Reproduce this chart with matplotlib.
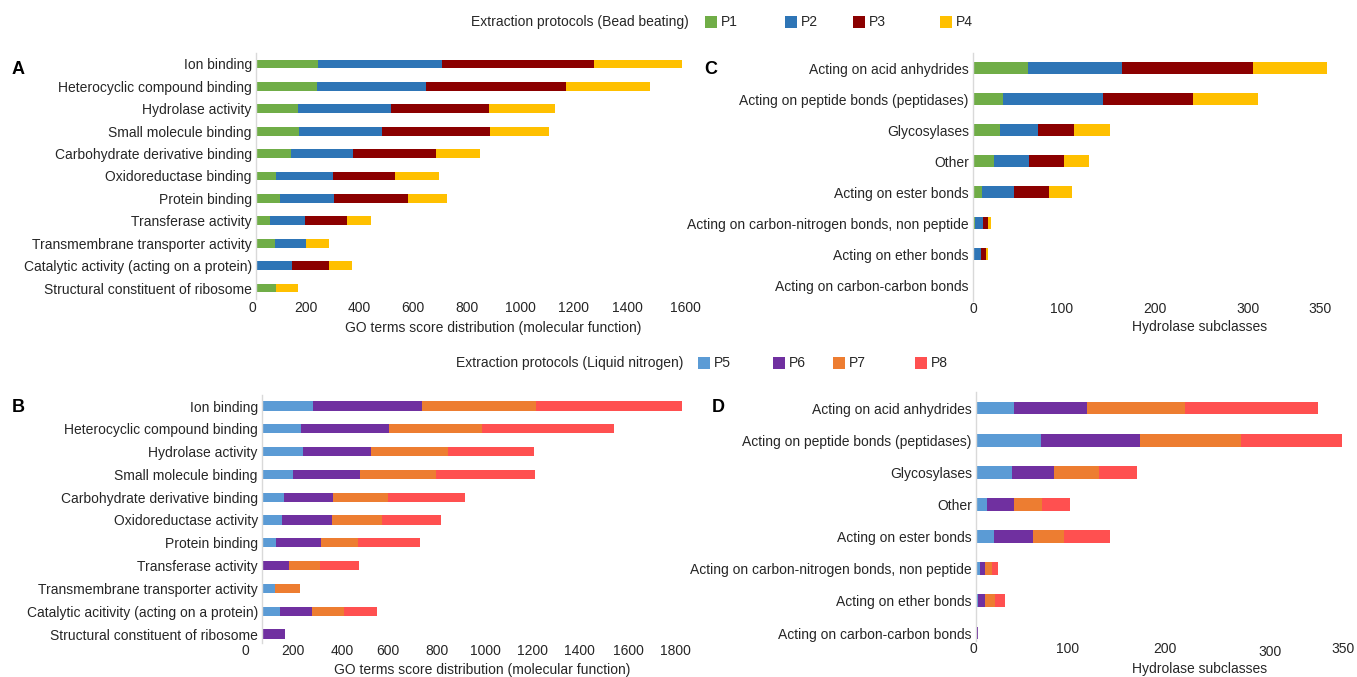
"""GO term and hydrolase subclass scores for the eight extraction protocols."""

import matplotlib

matplotlib.use("Agg")
import matplotlib.pyplot as plt
import matplotlib.transforms as mtransforms
import numpy as np
from matplotlib.patches import Rectangle

plt.rcParams["font.family"] = ["Liberation Sans", "DejaVu Sans"]
plt.rcParams["font.size"] = 10

W, H = 1357, 677

# molecular function categories (A: bead beating, B: liquid nitrogen)
go_terms_a = [
    "Ion binding",
    "Heterocyclic compound binding",
    "Hydrolase activity",
    "Small molecule binding",
    "Carbohydrate derivative binding",
    "Oxidoreductase binding",
    "Protein binding",
    "Transferase activity",
    "Transmembrane transporter activity",
    "Catalytic activity (acting on a protein)",
    "Structural constituent of ribosome",
]
go_terms_b = [
    "Ion binding",
    "Heterocyclic compound binding",
    "Hydrolase activity",
    "Small molecule binding",
    "Carbohydrate derivative binding",
    "Oxidoreductase activity",
    "Protein binding",
    "Transferase activity",
    "Transmembrane transporter activity",
    "Catalytic acitivity (acting on a protein)",
    "Structural constituent of ribosome",
]
p1_go = [231, 228, 157, 160, 130, 75, 90, 52, 72, 0, 75]
p2_go = [464, 406, 347, 311, 233, 214, 200, 131, 116, 136, 0]
p3_go = [564, 522, 366, 400, 307, 231, 277, 157, 0, 135, 0]
p4_go = [329, 314, 247, 221, 166, 163, 147, 90, 86, 86, 81]
p5_go = [215, 162, 172, 131, 91, 84, 59, 0, 56, 77, 0]
p6_go = [453, 368, 286, 281, 205, 210, 188, 114, 0, 131, 98]
p7_go = [478, 391, 321, 316, 233, 207, 156, 130, 103, 134, 0]
p8_go = [614, 554, 358, 415, 322, 247, 260, 162, 0, 141, 0]

# hydrolase subclasses (C: bead beating, D: liquid nitrogen)
hydrolases = [
    "Acting on acid anhydrides",
    "Acting on peptide bonds (peptidases)",
    "Glycosylases",
    "Other",
    "Acting on ester bonds",
    "Acting on carbon-nitrogen bonds, non peptide",
    "Acting on ether bonds",
    "Acting on carbon-carbon bonds",
]
p1_hyd = [58, 32, 28, 22, 9.5, 2.5, 0.5, 0]
p2_hyd = [99, 105, 40, 37, 34, 8, 8, 1.2]
p3_hyd = [138, 95, 38, 37, 37, 5.3, 5.3, 0]
p4_hyd = [78, 68, 38, 26, 24, 3.1, 1.7, 0]
p5_hyd = [38, 65, 36, 11, 17.6, 3.7, 2.3, 0]
p6_hyd = [73, 98, 41.5, 26.5, 39, 5.6, 7, 1.5]
p7_hyd = [97, 101, 45, 28, 30.6, 6.6, 9.3, 0.8]
p8_hyd = [133, 101, 38, 28.6, 46.4, 6, 10, 0]

bead_labels = ["P1", "P2", "P3", "P4"]
nitrogen_labels = ["P5", "P6", "P7", "P8"]
bead_colors = ["#70ad47", "#2e75b6", "#8b0000", "#ffc000"]
nitrogen_colors = ["#5b9bd5", "#7030a0", "#ed7d31", "#ff5050"]

TEXT = "#262626"


def px_axes(fig, left, right, top, bottom):
    return fig.add_axes([left / W, 1 - bottom / H, (right - left) / W, (bottom - top) / H])


def stacked(ax, cats, series, colors, xmax, ylim, height, xticks):
    y = np.arange(len(cats))
    left = np.zeros(len(cats))
    for vals, col in zip(series, colors):
        vals = np.asarray(vals, dtype=float)
        ax.barh(y, vals, left=left, height=height, color=col, edgecolor="none")
        left += vals
    ax.set_yticks(y)
    ax.set_yticklabels(cats, color=TEXT)
    ax.set_ylim(*ylim)
    ax.set_xlim(0, xmax)
    ax.set_xticks(xticks)
    ax.set_xticklabels([str(t) for t in xticks], color=TEXT)
    ax.tick_params(axis="both", length=0)
    ax.tick_params(axis="y", pad=3)
    ax.tick_params(axis="x", pad=1)
    for side in ["top", "right", "bottom"]:
        ax.spines[side].set_visible(False)
    ax.spines["left"].set_color("#d9d9d9")
    ax.spines["left"].set_linewidth(1)


def nudge_xticklabels(ax, offsets):
    # offsets in pixels (dx, dy), one per tick label
    for lab, (dx, dy) in zip(ax.get_xticklabels(), offsets):
        shift = mtransforms.ScaledTranslation(dx / 100, -dy / 100, fig.dpi_scale_trans)
        lab.set_transform(lab.get_transform() + shift)


def legend_row(fig, title, title_right, y, entries):
    fig.text(title_right / W, 1 - y / H, title, ha="right", va="center", color=TEXT)
    for (x, lab, col) in entries:
        fig.patches.append(
            Rectangle((x / W, 1 - (y + 6) / H), 12 / W, 12 / H,
                      transform=fig.transFigure, facecolor=col, edgecolor="none")
        )
        fig.text((x + 16) / W, 1 - y / H, lab, ha="left", va="center", color=TEXT)


fig = plt.figure(figsize=(W / 100, H / 100), dpi=100)

# A
ax_a = px_axes(fig, 256, 685, 52.8, 299.2)
stacked(ax_a, go_terms_a, [p1_go, p2_go, p3_go, p4_go], bead_colors, 1600,
        (10.5, -0.5), 0.4, list(range(0, 1601, 200)))
nudge_xticklabels(ax_a, [(-4, 0)] * 8 + [(0, 0)])

# B
ax_b = px_axes(fig, 262, 692, 394.6, 643)
stacked(ax_b, go_terms_b, [p5_go, p6_go, p7_go, p8_go], nitrogen_colors, 1800,
        (10 + 9 / 22.8, -0.5), 0.4, list(range(0, 1801, 200)))
nudge_xticklabels(ax_b, [(-17, 0), (-17, 0), (-15, 0), (-17, 0), (-16, 0),
                         (-15, 0), (-16, 0), (-17, 0), (-16, 0), (-17, 0)])

# C
ax_c = px_axes(fig, 973, 973 + 380 * 0.95, 52.5, 300.5)
stacked(ax_c, hydrolases, [p1_hyd, p2_hyd, p3_hyd, p4_hyd], bead_colors, 380,
        (7.5, -0.5), 0.39, [0, 100, 200, 300, 350])
nudge_xticklabels(ax_c, [(0, 0), (-6, 0), (-8, 0), (-10, 0), (15, 0)])

# D
ax_d = px_axes(fig, 976, 976 + 370 * 1.004, 392, 641)
stacked(ax_d, hydrolases, [p5_hyd, p6_hyd, p7_hyd, p8_hyd], nitrogen_colors, 370,
        (7 + 8 / 32.14, -0.5), 0.4, [0, 100, 200, 300, 350])
nudge_xticklabels(ax_d, [(-3, 0), (-9, 0), (-12, 0), (-7, 3), (16, 0)])

# axis titles
fig.text(493 / W, 1 - 328 / H, "GO terms score distribution (molecular function)",
         ha="center", va="center", color=TEXT)
fig.text(482 / W, 1 - 670 / H, "GO terms score distribution (molecular function)",
         ha="center", va="center", color=TEXT)
fig.text(1200 / W, 1 - 327 / H, "Hydrolase subclasses", ha="center", va="center", color=TEXT)
fig.text(1200 / W, 1 - 669 / H, "Hydrolase subclasses", ha="center", va="center", color=TEXT)

# panel letters
for letter, x, y in [("A", 18, 70), ("B", 18, 408), ("C", 711, 70), ("D", 718, 408)]:
    fig.text(x / W, 1 - y / H, letter, ha="center", va="center",
             fontsize=13, fontweight="bold", color="black")

# legends
legend_row(fig, "Extraction protocols (Bead beating)", 689, 22,
           list(zip([705, 785, 853, 940], bead_labels, bead_colors)))
legend_row(fig, "Extraction protocols (Liquid nitrogen)", 683, 363,
           list(zip([698, 773, 833, 915], nitrogen_labels, nitrogen_colors)))

fig.savefig("out.png", dpi=100, facecolor="white")
